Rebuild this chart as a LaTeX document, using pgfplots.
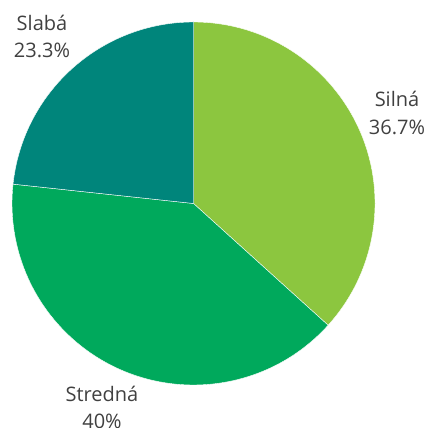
\documentclass[border=0pt]{standalone}
\usepackage{fontspec}
\setmainfont{Open Sans}
\usepackage{pgfplots}
\pgfplotsset{compat=1.18}
\definecolor{silna}{HTML}{8CC63F}
\definecolor{stredna}{HTML}{00A95C}
\definecolor{slaba}{HTML}{00857B}
\definecolor{labelgray}{HTML}{404040}

\begin{document}
\begin{tikzpicture}
\path[use as bounding box] (0,0) rectangle (428pt,428pt);
\begin{axis}[
  width=428pt, height=428pt, scale only axis,
  xmin=0, xmax=428, ymin=0, ymax=428,
  hide axis, clip=false,
]
% share values (percent), clockwise from 12 o'clock
\def\rad{181.5pt}
\def\cx{193.5}
\def\cy{224.5}
\fill[silna, draw=white, line width=0.4pt] (axis cs:\cx,\cy) -- ++(90:\rad)
  arc[start angle=90, end angle={90-36.7*3.6}, radius=\rad] -- cycle;
\fill[stredna, draw=white, line width=0.4pt] (axis cs:\cx,\cy) -- ++({90-36.7*3.6}:\rad)
  arc[start angle={90-36.7*3.6}, end angle={90-76.7*3.6}, radius=\rad] -- cycle;
\fill[slaba, draw=white, line width=0.4pt] (axis cs:\cx,\cy) -- ++({90-76.7*3.6}:\rad)
  arc[start angle={90-76.7*3.6}, end angle={-270}, radius=\rad] -- cycle;

\begin{scope}[every node/.style={font=\fontsize{20}{27}\selectfont, text=labelgray, anchor=base, inner sep=0pt}]
\node at (axis cs:42,397) {Slabá};
\node at (axis cs:42,370) {23.3\%};
\node at (axis cs:397,321) {Silná};
\node at (axis cs:397,293) {36.7\%};
\node at (axis cs:102,26) {Stredná};
\node at (axis cs:102,-1) {40\%};
\end{scope}
\end{axis}
\end{tikzpicture}
\end{document}
